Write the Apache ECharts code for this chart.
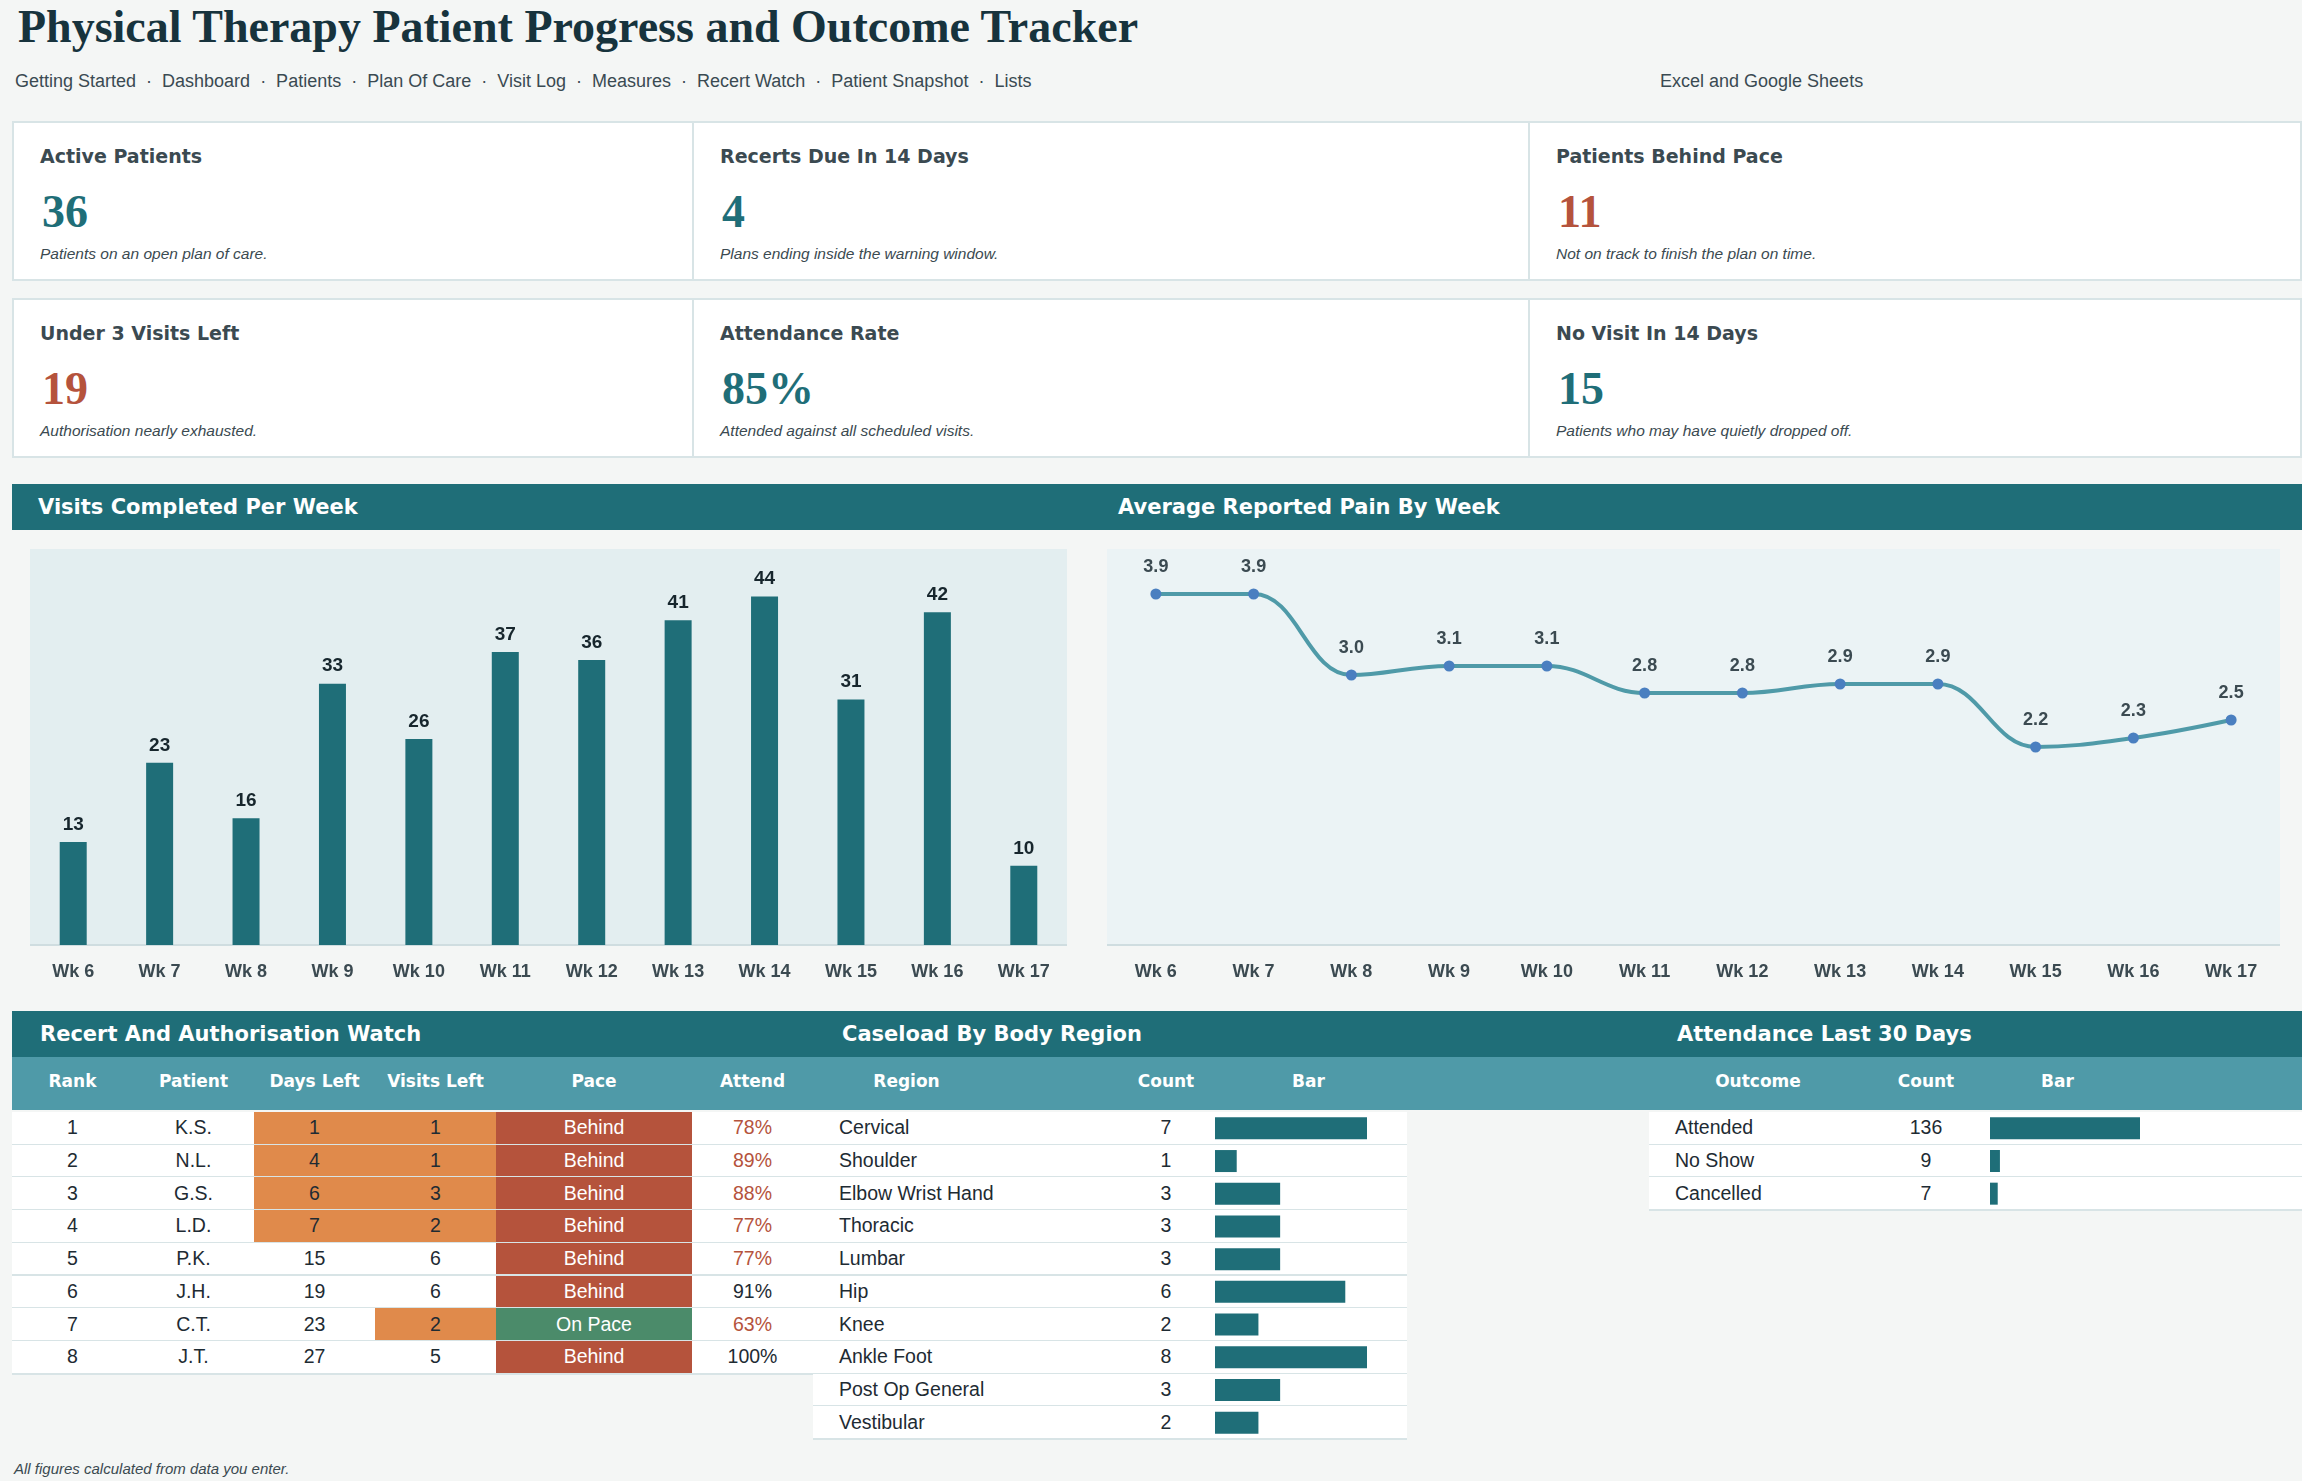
<!DOCTYPE html>
<html>
<head>
<meta charset="utf-8">
<script src="https://cdn.jsdelivr.net/npm/echarts@6/dist/echarts.min.js"></script>
<style>
body{margin:0;background:#f4f6f5;font-family:"Liberation Sans",Arial,sans-serif;color:#1e2b33;}
#page{position:relative;width:2302px;height:1481px;overflow:hidden;}
.abs{position:absolute;}
.title{left:18px;top:0px;font-family:"Liberation Serif",Georgia,serif;font-weight:bold;font-size:46px;color:#17333d;}
.nav{top:71px;font-size:18px;color:#3a4a52;}
.kpi{background:#fff;border:2px solid #d8e4e6;box-sizing:border-box;}
.kpi .lab{position:absolute;left:26px;top:22px;font-family:"DejaVu Sans",Verdana,sans-serif;font-weight:bold;font-size:19px;color:#3b4a51;}
.kpi .val{position:absolute;left:28px;top:62px;font-family:"Liberation Serif",Georgia,serif;font-weight:bold;font-size:46px;}
.kpi .cap{position:absolute;left:26px;top:122px;font-style:italic;font-size:15.5px;color:#3b4a51;}
.hdr{background:#1f6e78;color:#fff;font-family:"DejaVu Sans",Verdana,sans-serif;font-weight:bold;font-size:21px;}
.hdr span{position:absolute;top:11px;}
.band{background:#4f9aa8;}
.ch{position:absolute;color:#fff;font-family:"DejaVu Sans",Verdana,sans-serif;font-weight:bold;font-size:17px;top:1071px;text-align:center;}
.row{position:absolute;background:#fff;border-bottom:2px solid #d8e4e6;box-sizing:border-box;}
.cell{position:absolute;top:0;height:100%;display:flex;align-items:center;justify-content:center;font-size:19.5px;box-sizing:border-box;}
</style>
</head>
<body>
<div id="page"></div>
<script>
// nav + kpis
var navItems = ['Getting Started','Dashboard','Patients','Plan Of Care','Visit Log','Measures','Recert Watch','Patient Snapshot','Lists'];
var kpiLabels = ['Active Patients','Recerts Due In 14 Days','Patients Behind Pace','Under 3 Visits Left','Attendance Rate','No Visit In 14 Days'];
var kpiValues = ['36','4','11','19','85%','15'];
var kpiCaptions = ['Patients on an open plan of care.','Plans ending inside the warning window.','Not on track to finish the plan on time.','Authorisation nearly exhausted.','Attended against all scheduled visits.','Patients who may have quietly dropped off.'];
var kpiAlert = [false,false,true,true,false,false];

// charts
var weeks = ['Wk 6','Wk 7','Wk 8','Wk 9','Wk 10','Wk 11','Wk 12','Wk 13','Wk 14','Wk 15','Wk 16','Wk 17'];
var visits = [13,23,16,33,26,37,36,41,44,31,42,10];
var pain = [3.9,3.9,3.0,3.1,3.1,2.8,2.8,2.9,2.9,2.2,2.3,2.5];

// recert table
var rank = [1,2,3,4,5,6,7,8];
var patients = ['K.S.','N.L.','G.S.','L.D.','P.K.','J.H.','C.T.','J.T.'];
var daysLeft = [1,4,6,7,15,19,23,27];
var visitsLeft = [1,1,3,2,6,6,2,5];
var pace = ['Behind','Behind','Behind','Behind','Behind','Behind','On Pace','Behind'];
var attend = [78,89,88,77,77,91,63,100];

// caseload
var regions = ['Cervical','Shoulder','Elbow Wrist Hand','Thoracic','Lumbar','Hip','Knee','Ankle Foot','Post Op General','Vestibular'];
var regionCounts = [7,1,3,3,3,6,2,8,3,2];

// attendance
var outcomes = ['Attended','No Show','Cancelled'];
var outcomeCounts = [136,9,7];

var TEAL = '#1f6e78', RED = '#b5533c', ORANGE = '#e08a4b', GREEN = '#4b8b6a';
var page = document.getElementById('page');
function add(cls, css, html){
    var d = document.createElement('div');
    d.className = 'abs ' + cls;
    d.style.cssText = css;
    if(html != null) d.innerHTML = html;
    page.appendChild(d);
    return d;
}

add('title','','Physical Therapy Patient Progress and Outcome Tracker');
add('nav','left:15px;', navItems.join(' &nbsp;·&nbsp; '));
add('nav','left:1660px;','Excel and Google Sheets');

var kx = [12,692,1528,2302];
kpiLabels.forEach(function(l,i){
    var c = i%3, r = Math.floor(i/3);
    var top = r==0 ? 121 : 298;
    var k = add('kpi','left:'+kx[c]+'px;top:'+top+'px;width:'+(kx[c+1]-kx[c]+(c<2?2:0))+'px;height:160px;');
    k.innerHTML = '<div class="lab">'+l+'</div><div class="val" style="color:'+(kpiAlert[i]?RED:TEAL)+'">'+kpiValues[i]+'</div><div class="cap">'+kpiCaptions[i]+'</div>';
});

// section headers
var h1 = add('hdr','left:12px;top:484px;width:2290px;height:46px;');
h1.innerHTML = '<span style="left:26px">Visits Completed Per Week</span><span style="left:1106px">Average Reported Pain By Week</span>';
var h2 = add('hdr','left:12px;top:1011px;width:2290px;height:46px;');
h2.innerHTML = '<span style="left:28px">Recert And Authorisation Watch</span><span style="left:830px">Caseload By Body Region</span><span style="left:1665px">Attendance Last 30 Days</span>';
add('band','left:12px;top:1057px;width:2290px;height:53px;');

function colHead(text, l, r, align){
    add('ch','left:'+l+'px;width:'+(r-l)+'px;'+(align?'text-align:left;':''), text);
}
var rc = [12,133,254,375,496,692,813];
['Rank','Patient','Days Left','Visits Left','Pace','Attend'].forEach(function(t,i){ colHead(t, rc[i], rc[i+1]); });
var cc = [813,1122,1210,1407];
colHead('Region', 813, 1000); colHead('Count', cc[1], cc[2]); colHead('Bar', cc[2], 1407);
var ac = [1649,1867,1985,2302];
colHead('Outcome', ac[0], ac[1]); colHead('Count', ac[1], ac[2]); colHead('Bar', ac[2], 2130);

var ROW0 = 1112, RH = 32.7;
function cell(row, l, r, text, bg, color, align){
    var c = document.createElement('div');
    c.className = 'cell';
    c.style.cssText = 'left:'+(l-row.L)+'px;width:'+(r-l)+'px;'+(bg?'background:'+bg+';':'')+(color?'color:'+color+';':'')+(align?'justify-content:flex-start;padding-left:26px;':'');
    c.textContent = text;
    row.appendChild(c);
}
function mkRow(i, l, r){
    var d = add('row','left:'+l+'px;top:'+(ROW0+i*RH)+'px;width:'+(r-l)+'px;height:'+(RH+1)+'px;');
    d.L = l;
    return d;
}
rank.forEach(function(rk,i){
    var row = mkRow(i, 12, 813);
    cell(row, rc[0], rc[1], rk);
    cell(row, rc[1], rc[2], patients[i]);
    cell(row, rc[2], rc[3], daysLeft[i], daysLeft[i] <= 14 ? ORANGE : null);
    cell(row, rc[3], rc[4], visitsLeft[i], visitsLeft[i] <= 3 ? ORANGE : null);
    cell(row, rc[4], rc[5], pace[i], pace[i]=='Behind' ? RED : GREEN, '#fff');
    cell(row, rc[5], rc[6], attend[i]+'%', null, attend[i] < 90 ? RED : '#1e2b33');
});
regions.forEach(function(rg,i){
    var row = mkRow(i, 813, 1407);
    cell(row, cc[0], cc[1], rg, null, null, true);
    cell(row, cc[1], cc[2], regionCounts[i]);
});
outcomes.forEach(function(o,i){
    var row = mkRow(i, 1649, 2302);
    cell(row, ac[0], ac[1], o, null, null, true);
    cell(row, ac[1], ac[2], outcomeCounts[i]);
});
add('','left:14px;top:1460px;font-style:italic;font-size:15px;color:#3b4a51;','All figures calculated from data you enter.');

// charts
function box(l,t,w,h){
    return add('','left:'+l+'px;top:'+t+'px;width:'+w+'px;height:'+h+'px;');
}
var axisLab = {color:'#3b4a51',fontWeight:'bold',fontSize:18,fontFamily:'Liberation Sans',margin:18};
var barChart = echarts.init(box(30,549,1037,440));
barChart.setOption({
    grid:{left:0,right:0,top:0,height:396,backgroundColor:'#e3eef0',show:true,borderWidth:0},
    xAxis:{type:'category',data:weeks,axisTick:{show:false},axisLine:{lineStyle:{color:'#cfdde0',width:2}},axisLabel:axisLab},
    yAxis:{type:'value',min:0,max:50,show:false,splitLine:{show:false}},
    series:[{type:'bar',data:visits,barWidth:27,itemStyle:{color:TEAL},
        label:{show:true,position:'top',distance:8,color:'#17262d',fontWeight:'bold',fontSize:19}}]
});
var lineChart = echarts.init(box(1107,549,1173,440));
lineChart.setOption({
    grid:{left:0,right:0,top:0,height:396,backgroundColor:'#ebf3f5',show:true,borderWidth:0},
    xAxis:{type:'category',data:weeks,axisTick:{show:false},axisLine:{lineStyle:{color:'#cfdde0',width:2}},axisLabel:axisLab},
    yAxis:{type:'value',min:0,max:4.4,show:false,splitLine:{show:false}},
    series:[{type:'line',data:pain,smooth:0.4,symbol:'circle',symbolSize:11,
        lineStyle:{color:'#4f9aa8',width:4},itemStyle:{color:'#4a7fc0'},
        label:{show:true,position:'top',distance:12,color:'#3b4a51',fontWeight:'bold',fontSize:18,formatter:function(p){return p.value.toFixed(1);}}}]
});
function miniBars(el, cats, vals, max){
    var c = echarts.init(el);
    c.setOption({
        grid:{left:0,right:0,top:0,bottom:0},
        xAxis:{type:'value',min:0,max:max,show:false},
        yAxis:{type:'category',data:cats,inverse:true,show:false},
        series:[{type:'bar',data:vals,barWidth:22,itemStyle:{color:TEAL},clip:true}]
    });
}
miniBars(box(1215,ROW0,152,RH*regions.length), regions, regionCounts, 7);
miniBars(box(1990,ROW0,150,RH*outcomes.length), outcomes, outcomeCounts, 136);
</script>
</body>
</html>
